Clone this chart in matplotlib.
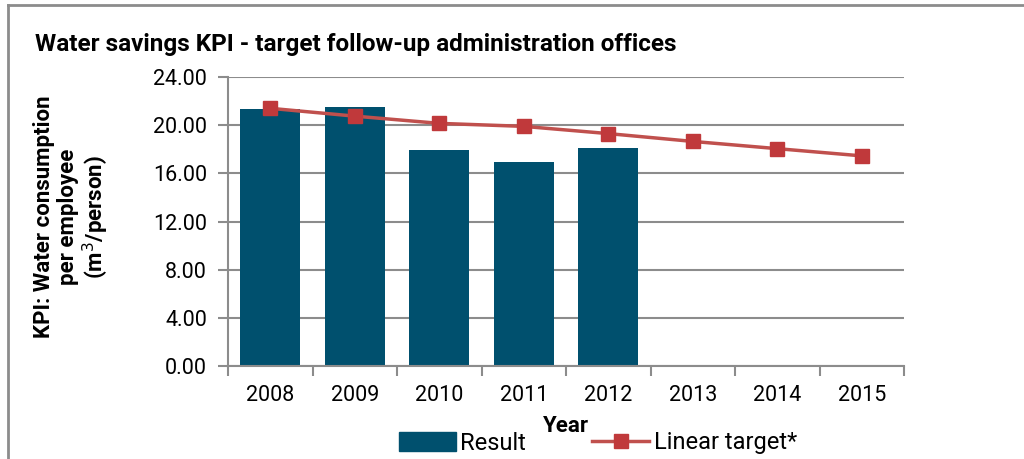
import matplotlib.pyplot as plt
from matplotlib.patches import Rectangle
from matplotlib.lines import Line2D

plt.rcParams['font.family'] = ['Roboto', 'DejaVu Sans']

years = ['2008', '2009', '2010', '2011', '2012', '2013', '2014', '2015']
result = [21.35, 21.5, 17.95, 16.95, 18.1]
target = [21.4, 20.75, 20.15, 19.9, 19.3, 18.65, 18.05, 17.45]

bar_color = '#00506E'
line_color = '#C0504D'
marker_color = '#C0393B'
grid_color = '#8C8C8C'

fig = plt.figure(figsize=(10.24, 4.59), dpi=100)
ax = fig.add_axes([228 / 1024, 93 / 459, 676 / 1024, 289 / 459])

x = list(range(len(years)))
ax.bar(x[:len(result)], result, width=0.71, color=bar_color, zorder=2)
ax.plot(x, target, color=line_color, lw=2.5, marker='s', ms=10,
        mfc=marker_color, mec=marker_color, zorder=3)

ax.set_xlim(-0.5, len(years) - 0.5)
ax.set_ylim(0, 24)
ax.set_yticks([0, 4, 8, 12, 16, 20, 24])
ax.set_yticklabels([f'{v:.2f}' for v in [0, 4, 8, 12, 16, 20, 24]], fontsize=15.5)
ax.set_xticks(x)
ax.set_xticklabels(years, fontsize=15.5)
ax.set_xticks([i - 0.5 for i in range(len(years) + 1)], minor=True)
ax.tick_params(axis='x', which='major', length=0, pad=14)
ax.tick_params(axis='x', which='minor', length=7, color=grid_color, width=1.5)
ax.tick_params(axis='y', length=7, color=grid_color, width=1.5, pad=8)
ax.yaxis.grid(True, color=grid_color, lw=1.5, zorder=1)
ax.set_axisbelow(True)
for s in ['top', 'right']:
    ax.spines[s].set_visible(False)
for s in ['left', 'bottom']:
    ax.spines[s].set_color(grid_color)
    ax.spines[s].set_linewidth(1.5)

ax.set_xlabel('Year', fontsize=16, fontweight='bold', labelpad=6)
fig.text(72 / 1024, 1 - 217 / 459,
         'KPI: Water consumption\nper employee\n(m$^3$/person)',
         rotation=90, ha='center', va='center', fontsize=16,
         fontweight='bold', linespacing=1.1)
fig.text(35 / 1024, 1 - 45 / 459,
         'Water savings KPI - target follow-up administration offices',
         ha='left', va='center', fontsize=17.5, fontweight='bold')

# frame lines (top and left)
fig.add_artist(Line2D([8 / 1024, 1], [1 - 5 / 459, 1 - 5 / 459],
                      transform=fig.transFigure, color='#8C8C8C', lw=2))
fig.add_artist(Line2D([8 / 1024, 8 / 1024], [0, 1 - 5 / 459],
                      transform=fig.transFigure, color='#8C8C8C', lw=2))

handles = [Rectangle((0, 0), 1, 1, color=bar_color),
           Line2D([], [], color=line_color, lw=2.5, marker='s', ms=10,
                  mfc=marker_color, mec=marker_color)]
fig.legend(handles, ['Result', 'Linear target*'], loc='center',
           bbox_to_anchor=(598 / 1024, 1 - 443 / 459), ncol=2, frameon=False,
           fontsize=17, handlelength=2.4, handletextpad=0.2, columnspacing=2.8,
           borderpad=0, handleheight=0.9)

fig.savefig('out.png', dpi=100)
